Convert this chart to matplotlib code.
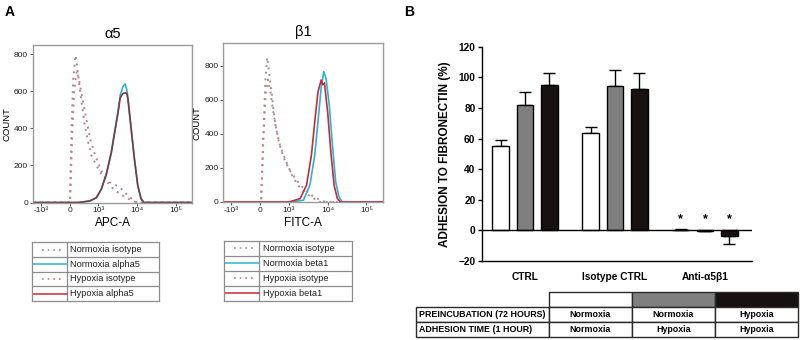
import matplotlib
matplotlib.use("Agg")
import matplotlib.pyplot as plt
from matplotlib.patches import Rectangle
from matplotlib.ticker import NullLocator
import numpy as np

plt.rcParams["font.family"] = ["Liberation Sans", "DejaVu Sans"]

# ---- panel A: flow cytometry histograms (x in fluorescence units, y = count)
A5_NORM_ISO_X = [-1500, 0, 10, 69, 127, 207, 300, 414, 528, 645, 759, 931, 1194, 1950, 3520, 6350, 9800, 262144]
A5_NORM_ISO_Y = [0, 0, 0, 398, 668, 795, 686, 542, 416, 326, 254, 200, 155, 110, 83, 29, 0, 0]
A5_HYP_ISO_X = [-1500, 0, 20, 90, 160, 250, 330, 450, 580, 720, 900, 1200, 1700, 2500, 4000, 7000, 10000, 262144]
A5_HYP_ISO_Y = [0, 0, 0, 350, 600, 710, 660, 560, 450, 340, 250, 170, 110, 70, 40, 12, 0, 0]
A5_X = [-1500, 300, 700, 931, 1194, 1604, 2155, 2620, 3200, 3666, 4300, 4925, 5400, 5780, 7020, 8520, 10400, 12660, 15000, 262144]
A5_NORM_Y = [0, 0, 8, 26, 73, 155, 272, 380, 488, 578, 625, 640, 610, 570, 400, 236, 92, 20, 0, 0]
A5_HYP_Y = [0, 0, 8, 26, 72, 152, 268, 375, 482, 565, 588, 592, 588, 560, 398, 236, 92, 20, 0, 0]

B1_NORM_ISO_X = [-1500, 0, 40, 120, 190, 250, 314, 375, 438, 500, 625, 750, 876, 1100, 1470, 1960, 2870, 4200, 6200, 9000, 262144]
B1_NORM_ISO_Y = [0, 0, 0, 400, 720, 850, 766, 680, 590, 492, 374, 297, 238, 178, 140, 101, 63, 33, 13, 0, 0]
B1_HYP_ISO_X = [-1500, 0, 40, 120, 200, 280, 360, 450, 560, 700, 900, 1200, 1700, 2600, 4000, 6500, 262144]
B1_HYP_ISO_Y = [0, 0, 0, 380, 640, 720, 650, 540, 430, 330, 240, 160, 100, 55, 25, 0, 0]
B1_NORM_X = [-1500, 1000, 2370, 3490, 4650, 5620, 6800, 7940, 9100, 11000, 13300, 16100, 19600, 23700, 262144]
B1_NORM_Y = [0, 0, 10, 100, 276, 470, 670, 766, 727, 570, 333, 118, 30, 0, 0]
B1_HYP_X = [-1500, 1000, 1960, 2870, 3820, 4650, 5620, 6800, 7500, 8270, 10000, 12100, 14680, 17800, 21500, 262144]
B1_HYP_Y = [0, 0, 20, 100, 276, 470, 645, 717, 690, 700, 529, 294, 98, 20, 0, 0]

X_TICKS = [-1000, 0, 1000, 10000, 100000]
X_TICKLABELS = ["-10³", "0", "10³", "10⁴", "10⁵"]
A5_LABELS = ["Normoxia isotype", "Normoxia alpha5", "Hypoxia isotype", "Hypoxia alpha5"]
B1_LABELS = ["Normoxia isotype", "Normoxia beta1", "Hypoxia isotype", "Hypoxia beta1"]

# ---- panel B: adhesion to fibronectin (%)
GROUPS = ["CTRL", "Isotype CTRL", "Anti-α5β1"]
NORM_NORM = [55.3, 63.6, 0.5]
NORM_NORM_ERR = [3.5, 3.7, 0.2]
NORM_HYP = [82.1, 94.4, -0.5]
NORM_HYP_ERR = [8.0, 10.4, 0.2]
HYP_HYP = [94.7, 92.6, -3.5]
HYP_HYP_ERR = [8.1, 10.2, 5.4]
STAR_GROUP = 2
STAR_Y = 7

ROW_LABELS = ["PREINCUBATION (72 HOURS)", "ADHESION TIME (1 HOUR)"]
PREINC = ["Normoxia", "Normoxia", "Hypoxia"]
ADHESION = ["Normoxia", "Hypoxia", "Hypoxia"]

GRAY_DOT = "#949494"
PINK_DOT = "#d07c88"
CYAN = "#2cb5c8"
RED = "#c8283c"
FRAME = "#9c9c9c"
BAR_COLORS = ["white", "#7f7f7f", "#171211"]

fig = plt.figure(figsize=(8.0, 3.4), dpi=100)


def px(x0, y0, x1, y1):
    return [x0 / 800, 1 - y1 / 340, (x1 - x0) / 800, (y1 - y0) / 340]


def histogram(rect, title, xlabel, ylim_top, curves):
    ax = fig.add_axes(rect)
    for xs, ys, color, dotted in curves:
        if dotted:
            ax.plot(xs, ys, color=color, lw=1.4, ls=(0, (1, 2.4)))
        else:
            ax.plot(xs, ys, color=color, lw=1.2)
    ax.set_xscale("symlog", linthresh=1000, linscale=0.67, base=10)
    ax.set_xlim(-1585, 262144)
    ax.set_ylim(0, ylim_top)
    ax.set_xticks(X_TICKS)
    ax.set_xticklabels(X_TICKLABELS)
    ax.xaxis.set_minor_locator(NullLocator())
    ax.set_yticks([0, 200, 400, 600, 800])
    ax.tick_params(labelsize=6, length=2, width=0.7, color="#555555", pad=1.5, labelcolor="#222222")
    for s in ax.spines.values():
        s.set_color(FRAME)
        s.set_linewidth(1.0)
    ax.set_title(title, fontsize=10.5, pad=5)
    ax.set_xlabel(xlabel, fontsize=8.5, labelpad=2)
    ax.set_ylabel("COUNT", fontsize=6.8, labelpad=2)
    return ax


histogram(px(33, 45, 192, 202.5), "α5", "APC-A", 850, [
    (A5_NORM_ISO_X, A5_NORM_ISO_Y, GRAY_DOT, True),
    (A5_HYP_ISO_X, A5_HYP_ISO_Y, PINK_DOT, True),
    (A5_X, A5_NORM_Y, CYAN, False),
    (A5_X, A5_HYP_Y, "#7a3a44", False),
])
histogram(px(223.3, 43.3, 382.7, 202), "β1", "FITC-A", 933, [
    (B1_NORM_ISO_X, B1_NORM_ISO_Y, GRAY_DOT, True),
    (B1_HYP_ISO_X, B1_HYP_ISO_Y, PINK_DOT, True),
    (B1_NORM_X, B1_NORM_Y, CYAN, False),
    (B1_HYP_X, B1_HYP_Y, RED, False),
])


def legend_table(rect, labels):
    ax = fig.add_axes(rect)
    ax.set_xlim(0, 1)
    ax.set_ylim(0, 4)
    ax.set_xticks([])
    ax.set_yticks([])
    for s in ax.spines.values():
        s.set_color("#8c8c8c")
        s.set_linewidth(0.9)
    split = 0.274
    ax.axvline(split, color="#8c8c8c", lw=0.9)
    for r in range(1, 4):
        ax.axhline(r, color="#8c8c8c", lw=0.9)
    styles = [(GRAY_DOT, True), (CYAN, False), (PINK_DOT, True), (RED, False)]
    for i, (label, (color, dotted)) in enumerate(zip(labels, styles)):
        yc = 3.5 - i
        if dotted:
            ax.plot([0.08, split - 0.03], [yc, yc], color=color, lw=1.2, ls=(0, (1, 2.4)))
        else:
            ax.plot([0, split], [yc, yc], color=color, lw=1.1)
        ax.text(split + 0.03, yc, label, fontsize=6.7, va="center", ha="left", color="#222222")


legend_table(px(31.7, 242.3, 159.3, 301), A5_LABELS)
legend_table(px(224.3, 241, 351.7, 300.7), B1_LABELS)

# ---- panel B bars
ax = fig.add_axes(px(481.7, 46.7, 751.7, 261))
x = np.arange(len(GROUPS))
offset = 0.27
width = 0.185
series = [(NORM_NORM, NORM_NORM_ERR), (NORM_HYP, NORM_HYP_ERR), (HYP_HYP, HYP_HYP_ERR)]
for k, ((vals, errs), color) in enumerate(zip(series, BAR_COLORS)):
    xs = x + (k - 1) * offset
    vals = np.asarray(vals)
    errs = np.asarray(errs)
    lo = np.where(vals < 0, errs, 0)
    hi = np.where(vals >= 0, errs, 0)
    ax.bar(xs, vals, width, color=color, edgecolor="black", linewidth=1.0, zorder=2)
    ax.errorbar(xs, vals, yerr=[lo, hi], fmt="none", ecolor="black", elinewidth=1.0,
                capsize=4.3, capthick=1.0, zorder=1)
    ax.text(xs[STAR_GROUP], STAR_Y, "*", ha="center", va="center", fontsize=9, fontweight="bold")
ax.axhline(0, color="black", lw=1.0, zorder=3)
ax.set_xlim(-0.48, 2.52)
ax.set_ylim(-20, 120)
ax.set_yticks(np.arange(-20, 121, 20))
ax.set_xticks(x)
ax.set_xticklabels(GROUPS)
ax.tick_params(axis="y", length=3, width=1.0, labelsize=7.3, pad=1.5)
ax.tick_params(axis="x", length=0, labelsize=7.3, pad=8)
for lab in ax.get_xticklabels() + ax.get_yticklabels():
    lab.set_fontweight("bold")
ax.spines["top"].set_visible(False)
ax.spines["right"].set_visible(False)
ax.spines["left"].set_linewidth(1.0)
ax.spines["bottom"].set_linewidth(1.0)
ax.set_ylabel("ADHESION TO FIBRONECTIN (%)", fontsize=8.5, fontweight="bold", labelpad=5)

# ---- condition table under panel B
tab = fig.add_axes(px(415.7, 291.7, 798.3, 336.7))
tab.set_xlim(0, 1)
tab.set_ylim(0, 3)
tab.axis("off")
cols = [0, 0.348, 0.5646, 0.782, 1.0]
edge = "#2a2a2a"
for j, color in enumerate(BAR_COLORS):
    tab.add_patch(Rectangle((cols[j + 1], 2), cols[j + 2] - cols[j + 1], 1, facecolor=color,
                            edgecolor=edge, lw=1.0, clip_on=False))
for r, (label, values) in enumerate(zip(ROW_LABELS, [PREINC, ADHESION])):
    y0 = 1 - r
    tab.add_patch(Rectangle((0, y0), cols[1], 1, facecolor="white", edgecolor=edge, lw=1.0, clip_on=False))
    tab.text(0.008, y0 + 0.5, label, fontsize=6.4, fontweight="bold", va="center", ha="left")
    for j, v in enumerate(values):
        tab.add_patch(Rectangle((cols[j + 1], y0), cols[j + 2] - cols[j + 1], 1, facecolor="white",
                                edgecolor=edge, lw=1.0, clip_on=False))
        tab.text((cols[j + 1] + cols[j + 2]) / 2, y0 + 0.5, v, fontsize=6.4, fontweight="bold",
                 va="center", ha="center")

fig.text(5 / 800, 1 - 12 / 340, "A", fontsize=10, fontweight="bold", va="center", ha="left")
fig.text(404 / 800, 1 - 12 / 340, "B", fontsize=10, fontweight="bold", va="center", ha="left")

fig.savefig("out.png", dpi=100)
